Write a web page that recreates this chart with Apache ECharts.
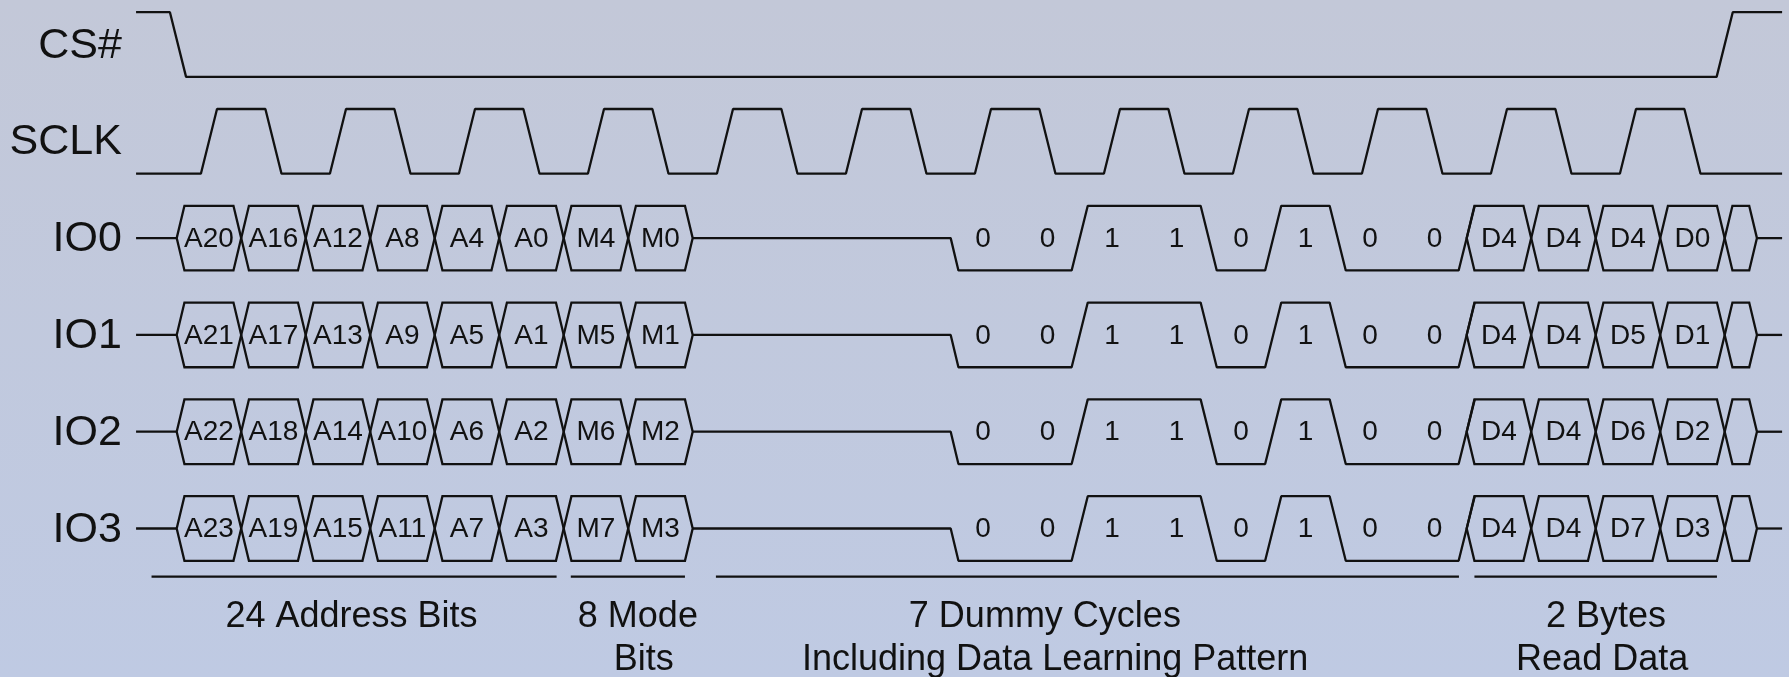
<!DOCTYPE html>
<html>
<head>
<meta charset="utf-8">
<script src="https://cdn.jsdelivr.net/npm/echarts@6/dist/echarts.min.js"></script>
<style>
html,body{margin:0;padding:0;background:#c2c9da;}
#main{width:1789px;height:677px;}
</style>
</head>
<body>
<div id="main"></div>
<script>
// ===== data (time in half clock cycles, rows: 0=CS#,1=SCLK,2..5=IO0..IO3) =====
const signalNames = ['CS#', 'SCLK', 'IO0', 'IO1', 'IO2', 'IO3'];
const addressBits = [
  ['A20', 'A16', 'A12', 'A8', 'A4', 'A0'],
  ['A21', 'A17', 'A13', 'A9', 'A5', 'A1'],
  ['A22', 'A18', 'A14', 'A10', 'A6', 'A2'],
  ['A23', 'A19', 'A15', 'A11', 'A7', 'A3']
];
const modeBits = [['M4', 'M0'], ['M5', 'M1'], ['M6', 'M2'], ['M7', 'M3']];
const learningPattern = [0, 0, 1, 1, 0, 1, 0, 0];
const readData = [
  ['D4', 'D4', 'D4', 'D0'],
  ['D4', 'D4', 'D5', 'D1'],
  ['D4', 'D4', 'D6', 'D2'],
  ['D4', 'D4', 'D7', 'D3']
];
const clockCycles = 12;
const idleHalfCycles = 4;
const phaseCaptions = [
  ['24 Address Bits'],
  ['8 Mode', 'Bits'],
  ['7 Dummy Cycles', 'Including Data Learning Pattern'],
  ['2 Bytes', 'Read Data']
];

// ===== layout / style =====
const INK = '#111111';
const FONT = '"Liberation Sans", Arial, Helvetica, sans-serif';
const LW = 2.3;
const H = 0.334;     // half signal swing (row units)
const E = 0.125;     // half width of a full-swing edge
const S = 0.12;      // slant of bus hexagons
const T0 = -0.63, T1 = 24.89;   // where traces start / end
const LABEL_X = -0.85, LABEL_DY = 0.012, CELL_DY = 0.01;
const csFallAt = 0.02, csRiseAt = 24.0;
const captionSpans = [[-0.39, 5.89], [6.11, 7.88], [8.36, 19.88], [20.12, 23.88]];
const captionX = [[2.71], [7.15, 7.24], [13.46, 13.62], [22.16, 22.1]];
const UNDERLINE_Y = 5.497, CAPTION_Y = [5.913, 6.357];

const ADDR_START = 0;
const MODE_START = ADDR_START + addressBits[0].length;
const IDLE_START = MODE_START + modeBits[0].length;
const PATTERN_START = IDLE_START + idleHalfCycles;
const DATA_START = PATTERN_START + learningPattern.length;
const TAIL_START = DATA_START + readData[0].length;
const TAIL_END = TAIL_START + 0.5;

// ===== waveforms =====
const waves = [];
// CS#
waves.push([[T0, -H], [csFallAt - E, -H], [csFallAt + E, H], [csRiseAt - E, H], [csRiseAt + E, -H], [T1, -H]]);
// SCLK
(function () {
  const r = 1, pts = [[T0, r + H]];
  for (let k = 0; k < clockCycles; k++) {
    const up = 0.5 + 2 * k, dn = 1.5 + 2 * k;
    pts.push([up - E, r + H], [up + E, r - H], [dn - E, r - H], [dn + E, r + H]);
  }
  pts.push([T1, r + H]);
  waves.push(pts);
})();
// IO lines
for (let io = 0; io < 4; io++) {
  const r = 2 + io, lo = r + H, hi = r - H;
  const lv = b => (b ? hi : lo);
  waves.push([[T0, r], [ADDR_START, r]]);
  const pts = [[IDLE_START, r], [PATTERN_START, r], [PATTERN_START + S, lv(learningPattern[0])]];
  for (let i = 1; i < learningPattern.length; i++) {
    if (learningPattern[i] !== learningPattern[i - 1]) {
      const b = PATTERN_START + i;
      pts.push([b - E, lv(learningPattern[i - 1])], [b + E, lv(learningPattern[i])]);
    }
  }
  const last = learningPattern[learningPattern.length - 1];
  pts.push([DATA_START - E, lv(last)], [DATA_START + E, lv(!last)]);
  waves.push(pts);
  waves.push([[TAIL_END, r], [T1, r]]);
}
// caption underlines
captionSpans.forEach(s => waves.push([[s[0], UNDERLINE_Y], [s[1], UNDERLINE_Y]]));

// ===== bus cells =====
const cells = [];
for (let io = 0; io < 4; io++) {
  const r = 2 + io;
  addressBits[io].forEach((lab, i) => cells.push({ start: ADDR_START + i, end: ADDR_START + i + 1, row: r, label: lab }));
  modeBits[io].forEach((lab, i) => cells.push({ start: MODE_START + i, end: MODE_START + i + 1, row: r, label: lab }));
  readData[io].forEach((lab, i) => cells.push({ start: DATA_START + i, end: DATA_START + i + 1, row: r, label: lab }));
  cells.push({ start: TAIL_START, end: TAIL_END, row: r, label: '' });
}

// ===== texts =====
const texts = [];
signalNames.forEach((n, r) => texts.push({ x: LABEL_X, y: r + LABEL_DY, text: n, size: 43, align: 'right' }));
for (let io = 0; io < 4; io++) {
  learningPattern.forEach((b, i) => texts.push({ x: PATTERN_START + i + 0.5, y: 2 + io + CELL_DY, text: String(b), size: 28, align: 'center' }));
}
phaseCaptions.forEach((lines, g) => lines.forEach((t, li) =>
  texts.push({ x: captionX[g][li], y: CAPTION_Y[li], text: t, size: 36, align: 'center' })));

// ===== chart =====
const chart = echarts.init(document.getElementById('main'), null, { renderer: 'canvas' });
const series = waves.map(pts => ({
  type: 'line', data: pts, symbol: 'none', silent: true, animation: false,
  lineStyle: { color: INK, width: LW }, z: 2
}));
series.push({
  type: 'custom', silent: true, animation: false, z: 3,
  data: cells.map(c => [c.start, c.end, c.row]),
  renderItem: function (params, api) {
    const a = api.value(0), b = api.value(1), r = api.value(2);
    const pts = [[a, r], [a + S, r - H], [b - S, r - H], [b, r], [b - S, r + H], [a + S, r + H]].map(p => api.coord(p));
    const c = api.coord([(a + b) / 2, r + CELL_DY]);
    return {
      type: 'group',
      children: [
        { type: 'polygon', shape: { points: pts }, style: { fill: 'none', stroke: INK, lineWidth: LW, lineJoin: 'miter' } },
        { type: 'text', x: c[0], y: c[1], style: { text: cells[params.dataIndex].label, fill: INK, font: '28px ' + FONT, align: 'center', verticalAlign: 'middle' } }
      ]
    };
  }
});
series.push({
  type: 'custom', silent: true, animation: false, z: 4,
  data: texts.map(t => [t.x, t.y]),
  renderItem: function (params, api) {
    const t = texts[params.dataIndex];
    const p = api.coord([api.value(0), api.value(1)]);
    return { type: 'text', x: p[0], y: p[1], style: { text: t.text, fill: INK, font: t.size + 'px ' + FONT, align: t.align, verticalAlign: 'middle' } };
  }
});

chart.setOption({
  animation: false,
  backgroundColor: new echarts.graphic.LinearGradient(0, 0, 0, 1, [
    { offset: 0, color: '#c3c8d8' },
    { offset: 1, color: '#bfcae3' }
  ]),
  grid: { left: 0, right: 0, top: 0, bottom: 0, containLabel: false },
  xAxis: { type: 'value', min: -2.7395, max: 24.997, show: false },
  yAxis: { type: 'value', min: -0.46, max: 6.534, inverse: true, show: false },
  series: series
});
</script>
</body>
</html>
